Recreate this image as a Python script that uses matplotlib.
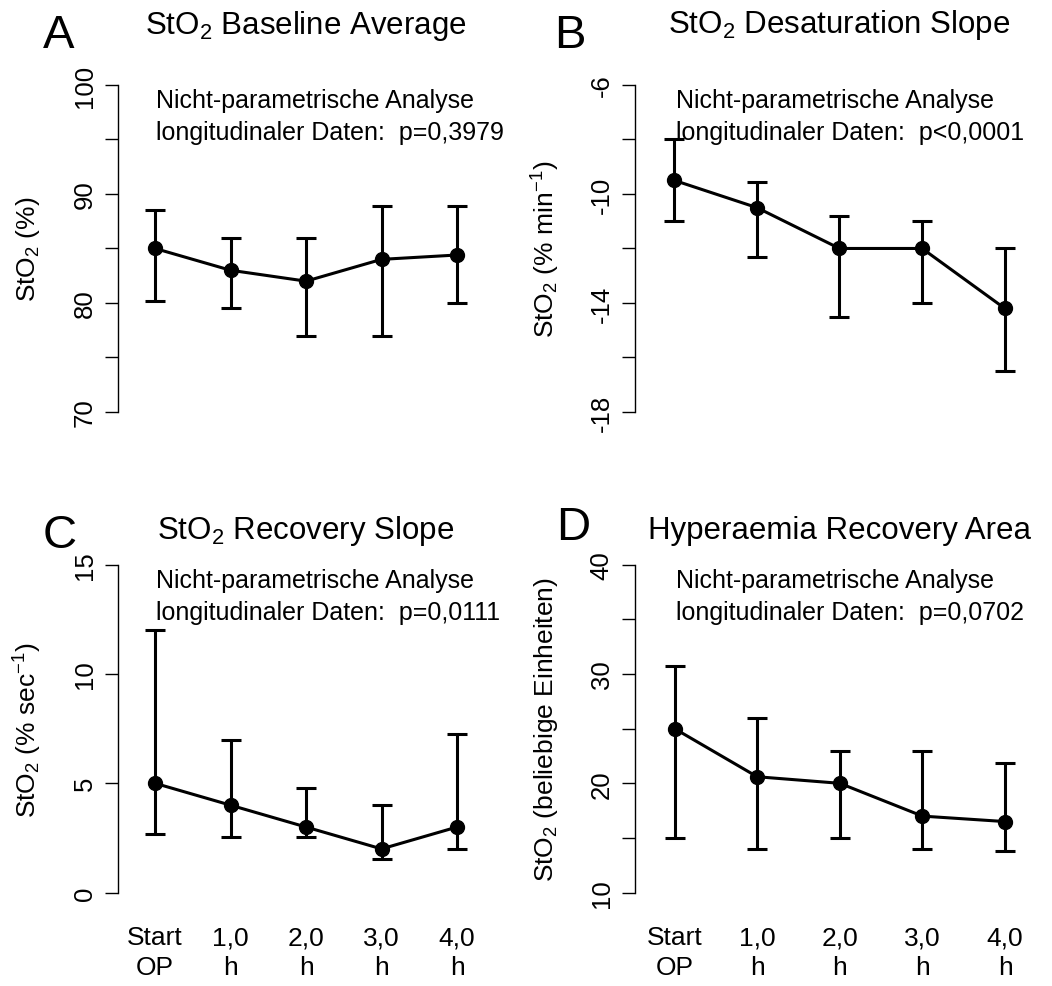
# Four-panel figure of StO2 parameters over the course of surgery (R base-graphics look).

import matplotlib
matplotlib.use('Agg')
import matplotlib.pyplot as plt
import numpy as np

plt.rcParams['font.family'] = ['Liberation Sans', 'DejaVu Sans']
plt.rcParams['mathtext.fontset'] = 'custom'
plt.rcParams['mathtext.rm'] = 'Liberation Sans'
plt.rcParams['mathtext.it'] = 'Liberation Sans:italic'
plt.rcParams['mathtext.bf'] = 'Liberation Sans:bold'

time_labels = ["Start\nOP", "1,0\nh", "2,0\nh", "3,0\nh", "4,0\nh"]
x = np.arange(1, 6)

# panel A - baseline average
a_med = [85.0, 83.0, 82.0, 84.0, 84.4]
a_lo = [80.2, 79.5, 77.0, 77.0, 80.0]
a_hi = [88.5, 86.0, 86.0, 88.9, 88.9]

# panel B - desaturation slope
b_med = [-9.5, -10.5, -12.0, -12.0, -14.2]
b_lo = [-11.0, -12.3, -14.5, -14.0, -16.5]
b_hi = [-8.0, -9.55, -10.8, -11.0, -12.0]

# panel C - recovery slope
c_med = [5.0, 4.0, 3.0, 2.0, 3.0]
c_lo = [2.7, 2.55, 2.55, 1.55, 2.0]
c_hi = [12.0, 7.0, 4.8, 4.0, 7.25]

# panel D - hyperaemia recovery area
d_med = [25.0, 20.6, 20.0, 17.0, 16.5]
d_lo = [15.0, 14.0, 15.0, 14.0, 13.8]
d_hi = [30.7, 26.0, 23.0, 23.0, 21.9]

PANELS = [
    dict(letter="A", title="StO$_2$ Baseline Average", ylabel="StO$_2$ (%)",
         med=a_med, lo=a_lo, hi=a_hi, p="p=0,3979",
         yticks=[70, 75, 80, 85, 90, 95, 100], ylabels=["70", "", "80", "", "90", "", "100"],
         rect=[0.1122, 0.5684, 0.3574, 0.3577], xlim=(0.51, 5.49),
         title_y=0.9656, letter_xy=(0.0409, 0.9514), ylab_x=-0.239, bottom=False),
    dict(letter="B", title="StO$_2$ Desaturation Slope", ylabel="StO$_2$ (% min$^{-1}$)",
         med=b_med, lo=b_lo, hi=b_hi, p="p<0,0001",
         yticks=[-18, -16, -14, -12, -10, -8, -6], ylabels=["-18", "", "-14", "", "-10", "", "-6"],
         rect=[0.6036, 0.5684, 0.3888, 0.3577], xlim=(0.525, 5.475),
         title_y=0.9666, letter_xy=(0.5266, 0.9514), ylab_x=-0.2176, bottom=False),
    dict(letter="C", title="StO$_2$ Recovery Slope", ylabel="StO$_2$ (% sec$^{-1}$)",
         med=c_med, lo=c_lo, hi=c_hi, p="p=0,0111",
         yticks=[0, 5, 10, 15], ylabels=["0", "5", "10", "15"],
         rect=[0.1122, 0.0813, 0.3574, 0.3589], xlim=(0.51, 5.49),
         title_y=0.4539, letter_xy=(0.0409, 0.4448), ylab_x=-0.239, bottom=True),
    dict(letter="D", title="Hyperaemia Recovery Area", ylabel="StO$_2$ (beliebige Einheiten)",
         med=d_med, lo=d_lo, hi=d_hi, p="p=0,0702",
         yticks=[10, 15, 20, 25, 30, 35, 40], ylabels=["10", "", "20", "", "30", "", "40"],
         rect=[0.6039, 0.0813, 0.3888, 0.3589], xlim=(0.525, 5.475),
         title_y=0.4539, letter_xy=(0.5285, 0.4529), ylab_x=-0.2176, bottom=True),
]

fig = plt.figure(figsize=(10.52, 9.87), dpi=100, facecolor="white")

for pn in PANELS:
    ax = fig.add_axes(pn["rect"])
    med = np.array(pn["med"])
    lo = np.array(pn["lo"])
    hi = np.array(pn["hi"])
    ax.errorbar(x, med, yerr=[med - lo, hi - med], color="black", lw=2.2,
                marker="o", markersize=10, capsize=7.2, capthick=2.2, elinewidth=2.2)

    y0, y1 = pn["yticks"][0], pn["yticks"][-1]
    ext = (y1 - y0) * 0.04
    ax.set_ylim(y0 - ext, y1 + ext)
    ax.set_xlim(*pn["xlim"])

    for s in ["top", "right", "bottom"]:
        ax.spines[s].set_visible(False)
    ax.spines["left"].set_bounds(y0, y1)
    ax.spines["left"].set_linewidth(1.0)

    ax.set_yticks(pn["yticks"])
    ax.set_yticklabels(pn["ylabels"], rotation=90, va="center", fontsize=18.5)
    ax.tick_params(axis="y", length=9.5, width=1.0, pad=6)

    if pn["bottom"]:
        ax.set_xticks(x)
        ax.set_xticklabels(time_labels, fontsize=19, linespacing=1.32)
        ax.tick_params(axis="x", length=0, pad=14)
    else:
        ax.set_xticks([])

    ax.text(pn["ylab_x"], 0.5, pn["ylabel"], transform=ax.transAxes, rotation=90,
            ha="center", va="center", fontsize=19)

    ax.text(0.1, 0.875, "Nicht-parametrische Analyse\nlongitudinaler Daten:  " + pn["p"],
            transform=ax.transAxes, ha="left", va="center", fontsize=18, linespacing=1.4)

    cx = pn["rect"][0] + pn["rect"][2] / 2
    fig.text(cx, pn["title_y"], pn["title"], ha="center", va="baseline", fontsize=22.5)
    fig.text(pn["letter_xy"][0], pn["letter_xy"][1], pn["letter"], ha="left",
             va="baseline", fontsize=34)

fig.savefig("out.png", dpi=100, facecolor="white")
